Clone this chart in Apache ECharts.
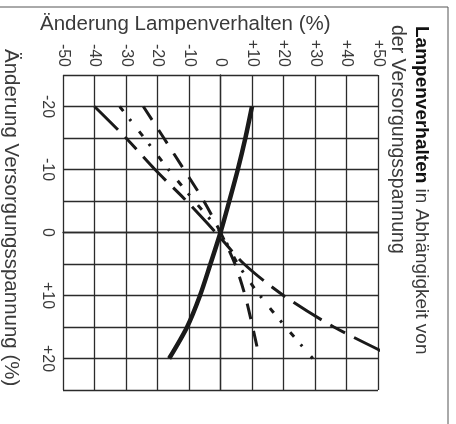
<!DOCTYPE html>
<html><head><meta charset="utf-8">
<script src="https://cdn.jsdelivr.net/npm/echarts@6/dist/echarts.min.js"></script>
<style>html,body{margin:0;padding:0;background:#fff}#c{width:456px;height:424px}</style>
</head><body><div id="c"></div>
<script>
// Änderung Versorgungsspannung (%) – vertical axis
const voltage = [-20, -15, -10, -5, 0, 5, 10, 15, 20];
// Änderung Lampenverhalten (%) for each curve
const solidCurve    = [10, 7.9, 5.5, 2.8, 0, -3.2, -6.5, -10.6, -16.3];
const longShortDash = [-40, -30, -20.8, -10.8, -1.5, 7.5, 20, 36, 56];
const mediumDash    = [-24.5, -18, -11.6, -5.3, 0, 4.6, 7.8, 10.2, 12.4];
const dashDot       = [-32, -24.2, -16.5, -8.3, 0, 5.5, 12.5, 20.7, 29.3];
// tick labels
const xTickLabels = ['-50','-40','-30','-20','-10','0','+10','+20','+30','+40','+50'];
const yTickLabels = {'-20':'-20','-10':'-10','0':'0','10':'+10','20':'+20'};

const FONT = 'Liberation Sans, Arial, Helvetica, sans-serif';
const TXT = '#3a3a3a';
const pairs = arr => arr.map((v, i) => [v, voltage[i]]);

const chart = echarts.init(document.getElementById('c'), null, {renderer: 'canvas'});
const lineBase = {type: 'line', smooth: 0.3, symbol: 'none', showSymbol: false, clip: true, z: 5};
chart.setOption({
  animation: false,
  backgroundColor: '#fff',
  grid: {left: 63, top: 75, width: 315, height: 315, containLabel: false},
  xAxis: {
    type: 'value', position: 'top', min: -50, max: 50, interval: 10,
    axisLine: {show: true, lineStyle: {color: '#2b2b2b', width: 1.3}},
    axisTick: {show: false},
    splitLine: {show: true, lineStyle: {color: '#2b2b2b', width: 1.3}},
    axisLabel: {
      rotate: -90, margin: 8, fontSize: 16, color: TXT, fontFamily: FONT,
      formatter: v => xTickLabels[Math.round((v + 50) / 10)]
    }
  },
  yAxis: {
    type: 'value', inverse: true, min: -25, max: 25, interval: 5,
    axisLine: {show: true, lineStyle: {color: '#2b2b2b', width: 1.3}},
    axisTick: {show: false},
    splitLine: {show: true, lineStyle: {color: '#2b2b2b', width: 1.3}},
    axisLabel: {
      rotate: -90, margin: 8, fontSize: 16, color: TXT, fontFamily: FONT,
      formatter: v => (yTickLabels[String(v)] !== undefined ? yTickLabels[String(v)] : '')
    }
  },
  series: [
    Object.assign({}, lineBase, {data: pairs(solidCurve), lineStyle: {color: '#1a1a1a', width: 4.5}}),
    Object.assign({}, lineBase, {data: pairs(longShortDash), lineStyle: {color: '#1a1a1a', width: 3, type: [33, 10, 17, 10]}}),
    Object.assign({}, lineBase, {data: pairs(mediumDash), lineStyle: {color: '#1a1a1a', width: 3, type: [16, 12]}}),
    Object.assign({}, lineBase, {data: pairs(dashDot), lineStyle: {color: '#1a1a1a', width: 3, type: [6, 10, 2.5, 13]}})
  ],
  graphic: [
    {type: 'line', shape: {x1: 0, y1: 7, x2: 448, y2: 7}, style: {stroke: '#555', lineWidth: 1}},
    {type: 'line', shape: {x1: 448, y1: 7, x2: 448, y2: 424}, style: {stroke: '#555', lineWidth: 1}},
    {type: 'text', x: 40, y: 24, style: {text: 'Änderung Lampenverhalten (%)', font: '20.5px ' + FONT, fill: TXT, textAlign: 'left', textVerticalAlign: 'middle'}},
    {type: 'text', x: 11, y: 49, rotation: -Math.PI / 2,
      style: {text: 'Änderung Versorgungsspannung (%)', font: '20.5px ' + FONT, fill: TXT, textAlign: 'left', textVerticalAlign: 'middle'}},
    {type: 'text', x: 421, y: 26, rotation: -Math.PI / 2,
      style: {
        text: '{b|Lampenverhalten}{n| in Abhängigkeit von}',
        textAlign: 'left', textVerticalAlign: 'middle',
        rich: {
          b: {fontWeight: 'bold', fontSize: 19, fontFamily: FONT, fill: '#111'},
          n: {fontSize: 19, fontFamily: FONT, fill: TXT}
        }
      }},
    {type: 'text', x: 397, y: 25, rotation: -Math.PI / 2,
      style: {text: 'der Versorgungsspannung', font: '19.5px ' + FONT, fill: TXT, textAlign: 'left', textVerticalAlign: 'middle'}}
  ]
});
</script></body></html>
